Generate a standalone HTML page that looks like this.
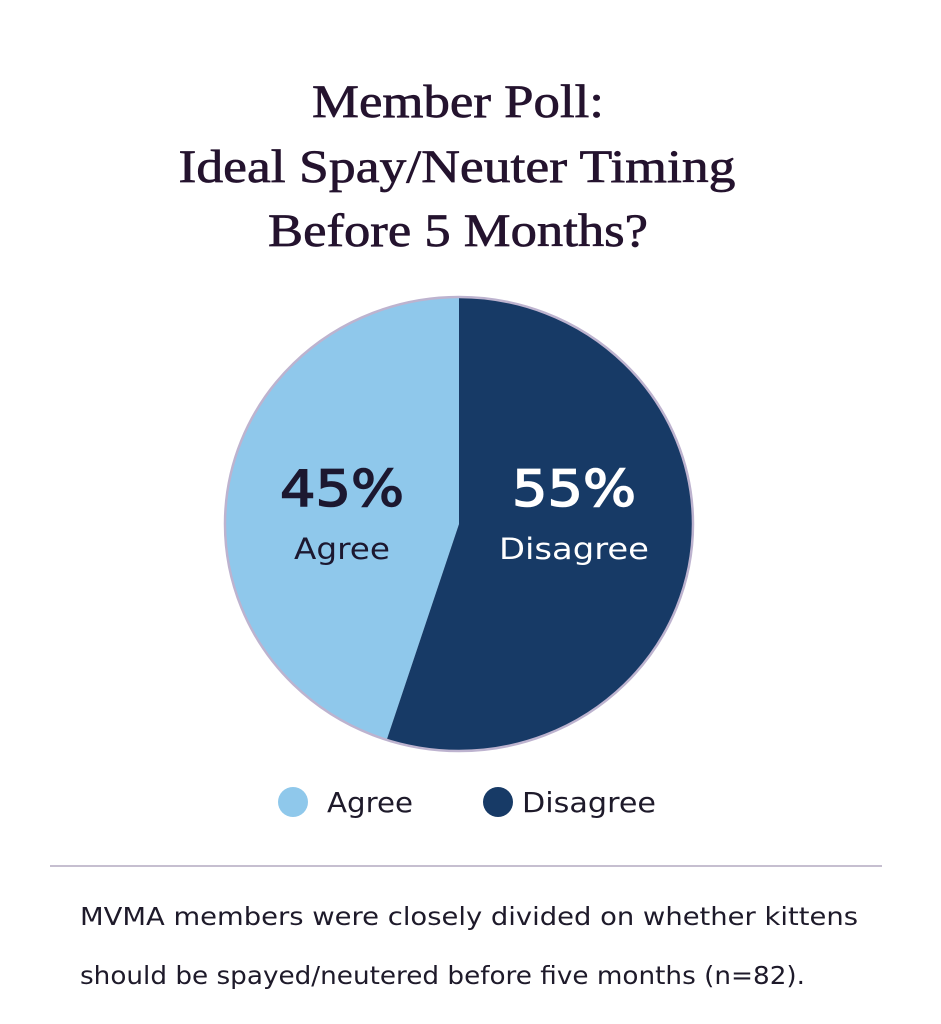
<!DOCTYPE html>
<html><head><meta charset="utf-8"><style>
html,body{margin:0;padding:0;background:#fff;}
svg{display:block;}
</style></head><body>
<svg width="941" height="1024" viewBox="0 0 941 1024">
<g font-family="Liberation Serif, serif" fill="#24132e" font-size="47" text-anchor="middle" stroke="#24132e" stroke-width="0.7">
<text x="458" y="117" textLength="292" lengthAdjust="spacingAndGlyphs">Member Poll:</text>
<text x="457" y="182" textLength="557" lengthAdjust="spacingAndGlyphs">Ideal Spay/Neuter Timing</text>
<text x="458" y="246" textLength="380" lengthAdjust="spacingAndGlyphs">Before 5 Months?</text>
</g>
<g id="pie"></g>
<g id="legend"></g>
<line x1="50" y1="866" x2="882" y2="866" stroke="#c6bfd0" stroke-width="2"/>
<g font-family="DejaVu Sans, sans-serif" font-size="25" fill="#1e1a2a">
<text x="80" y="925" textLength="778" lengthAdjust="spacingAndGlyphs">MVMA members were closely divided on whether kittens</text>
<text x="80" y="984" textLength="725" lengthAdjust="spacingAndGlyphs">should be spayed/neutered before five months (n=82).</text>
</g>
</svg>
<script>
const categories = ["Agree", "Disagree"];
const values = [45, 55];
const colors = ["#8fc8eb", "#173a66"];
const textColors = ["#1c1830", "#ffffff"];
const NS = "http://www.w3.org/2000/svg";
const cx = 459, cy = 524, rx = 234, ry = 227;
const pie = document.getElementById("pie");
const total = values.reduce((a,b)=>a+b,0);
function pt(frac){
  const a = frac*2*Math.PI;
  return [cx + rx*Math.sin(a), cy - ry*Math.cos(a)];
}
let starts = [-values[0]/total, 0];
for (let i=0;i<categories.length;i++){
  const s = starts[i], e = s + values[i]/total;
  const p0 = pt(s), p1 = pt(e);
  const large = (e-s) > 0.5 ? 1 : 0;
  const path = document.createElementNS(NS,"path");
  path.setAttribute("d",`M${cx},${cy} L${p0[0]},${p0[1]} A${rx},${ry} 0 ${large} 1 ${p1[0]},${p1[1]} Z`);
  path.setAttribute("fill",colors[i]);
  
  
  pie.appendChild(path);
}
const border = document.createElementNS(NS,"ellipse");
border.setAttribute("cx",cx);border.setAttribute("cy",cy);
border.setAttribute("rx",rx);border.setAttribute("ry",ry);
border.setAttribute("fill","none");border.setAttribute("stroke","#bdb3cf");border.setAttribute("stroke-width","2.5");


pie.appendChild(border);
const labelX = [342, 574];
const catLen = [96, 150];
for (let i=0;i<categories.length;i++){
  const t1 = document.createElementNS(NS,"text");
  t1.setAttribute("x",labelX[i]);t1.setAttribute("y",506);
  t1.setAttribute("text-anchor","middle");t1.setAttribute("font-family","DejaVu Sans, sans-serif");
  t1.setAttribute("font-size","50");t1.setAttribute("fill",textColors[i]);
  t1.setAttribute("stroke",textColors[i]);t1.setAttribute("stroke-width","1.5");
  t1.setAttribute("textLength","124");t1.setAttribute("lengthAdjust","spacingAndGlyphs");
  t1.textContent = values[i] + "%";
  
  
  pie.appendChild(t1);
  const t2 = document.createElementNS(NS,"text");
  t2.setAttribute("x",labelX[i]);t2.setAttribute("y",559);
  t2.setAttribute("text-anchor","middle");t2.setAttribute("font-family","DejaVu Sans, sans-serif");
  t2.setAttribute("font-size","29");t2.setAttribute("fill",textColors[i]);
  t2.setAttribute("textLength",catLen[i]);t2.setAttribute("lengthAdjust","spacingAndGlyphs");
  t2.textContent = categories[i];
  
  
  pie.appendChild(t2);
}
const legend = document.getElementById("legend");
const legX = [293, 498];
const legTextX = [327, 522];
const legLen = [86, 134];
for (let i=0;i<categories.length;i++){
  const c = document.createElementNS(NS,"circle");
  c.setAttribute("cx",legX[i]);c.setAttribute("cy",802);c.setAttribute("r",15);c.setAttribute("fill",colors[i]);
  
  
  legend.appendChild(c);
  const t = document.createElementNS(NS,"text");
  t.setAttribute("x",legTextX[i]);t.setAttribute("y",812);
  t.setAttribute("font-family","DejaVu Sans, sans-serif");t.setAttribute("font-size","28");t.setAttribute("fill","#1e1a2a");
  t.setAttribute("textLength",legLen[i]);t.setAttribute("lengthAdjust","spacingAndGlyphs");
  t.textContent = categories[i];
  
  
  legend.appendChild(t);
}
</script>
</body></html>
